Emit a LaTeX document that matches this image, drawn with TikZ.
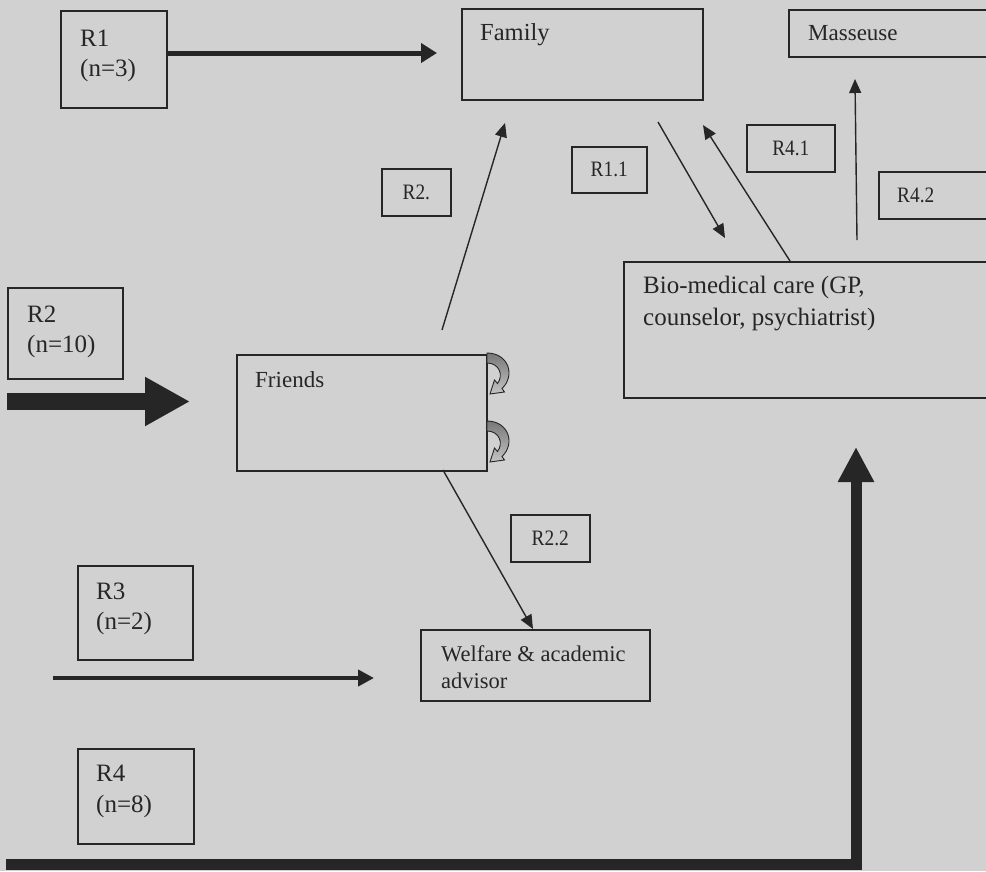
\documentclass[tikz,border=0pt]{standalone}
\usepackage{fontspec}
\setmainfont{Liberation Serif}
\newfontfamily\labelfont[FakeStretch=0.88]{Liberation Serif}
\usetikzlibrary{arrows.meta,calc}
\definecolor{paper}{RGB}{209,209,209}
\definecolor{ink}{RGB}{38,38,38}
\definecolor{ribbondark}{RGB}{120,120,120}
\definecolor{ribbonlight}{RGB}{196,196,196}
\newcommand\txtsize[1]{\fontsize{#1}{#1}\selectfont}

\begin{document}
\begin{tikzpicture}[x=1pt,y=-1pt,
  boxst/.style={draw=ink, line width=1.6pt, rectangle, inner sep=0pt, anchor=north west,
    text=ink, font=\labelfont\txtsize{22}},
  txt/.style={text=ink, inner sep=0pt, anchor=base west, font=\txtsize{23}},
  grouptxt/.style={txt, font=\txtsize{25}},
  link/.style={draw=ink, line width=1.4pt, -{Triangle[length=14pt,width=12pt]}},
  feed/.style={draw=ink, line width=5pt, -{Triangle[length=16pt,width=19pt]}},
  feedthin/.style={draw=ink, line width=4pt, -{Triangle[length=16pt,width=16pt]}},
  bigflow/.style={draw=black!85, line width=17pt, line cap=butt, -{Triangle[length=45pt,width=46pt]}},
  mainflow/.style={draw=black!85, line width=11pt, line cap=butt, line join=miter,
    -{Triangle[length=35pt,width=34pt]}},
  loopribbon/.style={draw=ink, line width=0.9pt, top color=ribbondark, bottom color=ribbonlight}
]
\useasboundingbox (0,0) rectangle (986,871);
\clip (0,0) rectangle (986,871);
\fill[paper] (0,0) rectangle (986,871);

% group boxes on the left
\node[boxst, minimum width=106pt, minimum height=97pt] (r1) at (60,10) {};
\node[grouptxt] at (80,46) {R1};
\node[grouptxt] at (80,76) {(n=3)};

\node[boxst, minimum width=115pt, minimum height=91pt] (r2) at (7,287) {};
\node[grouptxt] at (27,322) {R2};
\node[grouptxt] at (27,352) {(n=10)};

\node[boxst, minimum width=115pt, minimum height=94pt] (r3) at (77,565) {};
\node[grouptxt] at (96,599) {R3};
\node[grouptxt] at (96,629) {(n=2)};

\node[boxst, minimum width=116pt, minimum height=95pt] (r4) at (77,748) {};
\node[grouptxt] at (96,781) {R4};
\node[grouptxt] at (96,812) {(n=8)};

% support boxes
\node[boxst, minimum width=241pt, minimum height=91pt] (fam) at (461,8) {};
\node[txt, font=\txtsize{24.5}] at (480,40) {Family};

\node[boxst, minimum width=230pt, minimum height=47pt] (mas) at (788,9) {};
\node[txt] at (808,40) {Masseuse};

\node[boxst, minimum width=400pt, minimum height=136pt] (bio) at (623,261) {};
\node[grouptxt] at (643,293) {Bio-medical care (GP,};
\node[grouptxt] at (643,325) {counselor, psychiatrist)};

\node[boxst, minimum width=250pt, minimum height=116pt] (fri) at (236,354) {};
\node[txt] at (255,387) {Friends};

\node[boxst, minimum width=229pt, minimum height=71pt] (wel) at (420,629) {};
\node[txt, font=\txtsize{22.5}] at (441,661) {Welfare \& academic};
\node[txt, font=\txtsize{22.5}] at (441,688) {advisor};

% route labels
\node[boxst, minimum width=69pt, minimum height=47pt] (lr2) at (381,168) {R2.};
\node[boxst, minimum width=75pt, minimum height=46pt] (lr11) at (571,146) {R1.1};
\node[boxst, minimum width=88pt, minimum height=47pt] (lr41) at (746,124) {R4.1};
\node[boxst, minimum width=130pt, minimum height=47pt] (lr42) at (878,171) {};
\node[txt, font=\labelfont\txtsize{22}] at (897,202) {R4.2};
\node[boxst, minimum width=79pt, minimum height=47pt] (lr22) at (510,514) {R2.2};

% connector end points
\coordinate (r1out) at (166,53);
\coordinate (r1in) at (437,53);
\coordinate (r2out) at (7,401.5);
\coordinate (r2in) at (190,401.5);
\coordinate (r3out) at (53,678);
\coordinate (r3in) at (374,678);
\coordinate (r4out) at (6,864);
\coordinate (r4bend) at (856,864);
\coordinate (r4in) at (856,447);
\coordinate (friup) at (442,330);
\coordinate (famin) at (505,123);
\coordinate (famout) at (658,122);
\coordinate (bioin) at (725,238);
\coordinate (bioout) at (790,261);
\coordinate (famback) at (703,125);
\coordinate (biotop) at (857,240);
\coordinate (masin) at (855,79);
\coordinate (fridown) at (443,470);
\coordinate (welin) at (533,629);

% entry flows
\draw[feed] (r1out) -- (r1in);
\draw[bigflow] (r2out) -- (r2in);
\draw[feedthin] (r3out) -- (r3in);
\draw[mainflow] (r4out) -- (r4bend) -- (r4in);

% referrals between sources of help
\draw[link] (friup) -- (famin);
\draw[link] (famout) -- (bioin);
\draw[link] (bioout) -- (famback);
\draw[link] (biotop) -- (masin);
\draw[link] (fridown) -- (welin);

% self-referral loops on the friends box
\foreach \dy in {0,68}{
  \path[loopribbon, shift={(487,353+\dy)}]
    (0,0) .. controls (21,0) and (29,22) .. (15,35.5)
    -- (17.5,39) -- (3,41) -- (7.5,27) -- (10.5,30.5)
    .. controls (17,22) and (12,10) .. (0,10) -- cycle;
}
\end{tikzpicture}
\end{document}
